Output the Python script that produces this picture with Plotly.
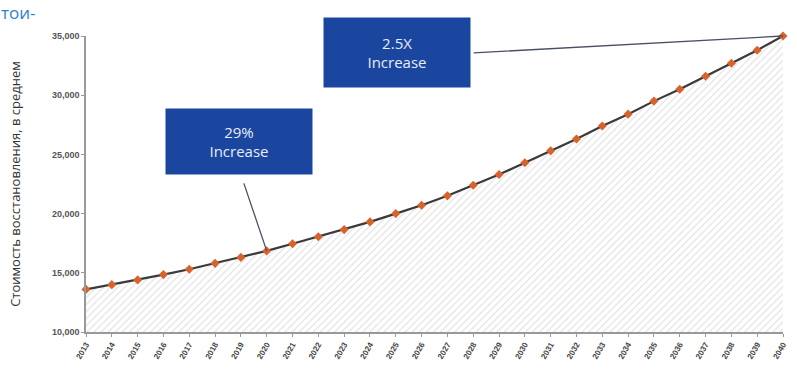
import plotly.graph_objects as go

years = list(range(2013, 2041))
values = [13600, 14000, 14400, 14850, 15300, 15800, 16300, 16850, 17450, 18050,
          18650, 19300, 20000, 20700, 21500, 22400, 23300, 24300, 25300, 26300,
          27400, 28400, 29500, 30500, 31600, 32700, 33800, 35000]
y_ticks = [10000, 15000, 20000, 25000, 30000, 35000]
y_title = "Стоимость восстановления, в среднем"
callouts = [("29%<br>Increase", 2020), ("2.5X<br>Increase", 2040)]

fig = go.Figure()
fig.add_trace(go.Scatter(
    x=years, y=values, mode="lines+markers",
    line=dict(color="#3a3a3a", width=2.2),
    marker=dict(color="#d9622b", size=7, symbol="diamond"),
    fill="tozeroy", fillcolor="rgba(255,255,255,0)",
    fillpattern=dict(shape="/", fgcolor="#c8c8c8", bgcolor="white", size=5, solidity=0.25),
    cliponaxis=False, showlegend=False,
))

box_font = dict(family="Open Sans, sans-serif", size=15, color="#e8ecf6")
line_col = "#4a5064"
# 29% callout
v2020 = values[years.index(2020)]
fig.add_annotation(x=2020, y=v2020, ax=2019.0, ay=23300, xref="x", yref="y", axref="x", ayref="y",
                   text=" ", showarrow=True, arrowhead=0, arrowwidth=1.3, arrowcolor=line_col)
fig.add_annotation(x=2018.92, y=26050, xref="x", yref="y", text=callouts[0][0], showarrow=False,
                   font=box_font, bgcolor="#1b46a0", width=146, height=65, align="center", borderpad=0)
# 2.5X callout
v2040 = values[-1]
fig.add_annotation(x=2040, y=v2040, ax=2027.9, ay=33560, xref="x", yref="y", axref="x", ayref="y",
                   text=" ", showarrow=True, arrowhead=0, arrowwidth=1.3, arrowcolor=line_col)
fig.add_annotation(x=2025.04, y=33600, xref="x", yref="y", text=callouts[1][0], showarrow=False,
                   font=box_font, bgcolor="#1b46a0", width=146, height=69, align="center", borderpad=0)

fig.add_annotation(x=0, y=1, xref="paper", yref="paper", xanchor="left", yanchor="top",
                   xshift=-87, yshift=37, text="тои-", showarrow=False,
                   font=dict(family="Open Sans, sans-serif", size=17, color="#2f7fd0"))

fig.update_xaxes(range=[2013, 2040], tickmode="array", tickvals=years,
                 ticktext=[str(y) for y in years], tickangle=-60,
                 tickfont=dict(family="Liberation Sans, sans-serif", size=8, color="#444", weight="bold"),
                 showgrid=False, zeroline=False, showline=True, linecolor="#999", linewidth=1.5,
                 ticks="outside", ticklen=3, tickcolor="#999")
fig.update_yaxes(range=[10000, 35000], tickvals=y_ticks, tickformat=",",
                 tickfont=dict(family="Liberation Sans, sans-serif", size=9, color="#555", weight="bold"),
                 title=dict(text=y_title, font=dict(family="Open Sans, sans-serif", size=13, color="#333"), standoff=28),
                 showgrid=False, zeroline=False, showline=True, linecolor="#999", linewidth=1.5,
                 ticks="outside", ticklen=3, tickcolor="#999")
fig.update_layout(width=797, height=370, margin=dict(l=86, r=9, t=36, b=38),
                  plot_bgcolor="white", paper_bgcolor="white")
fig.write_html("out.html")
